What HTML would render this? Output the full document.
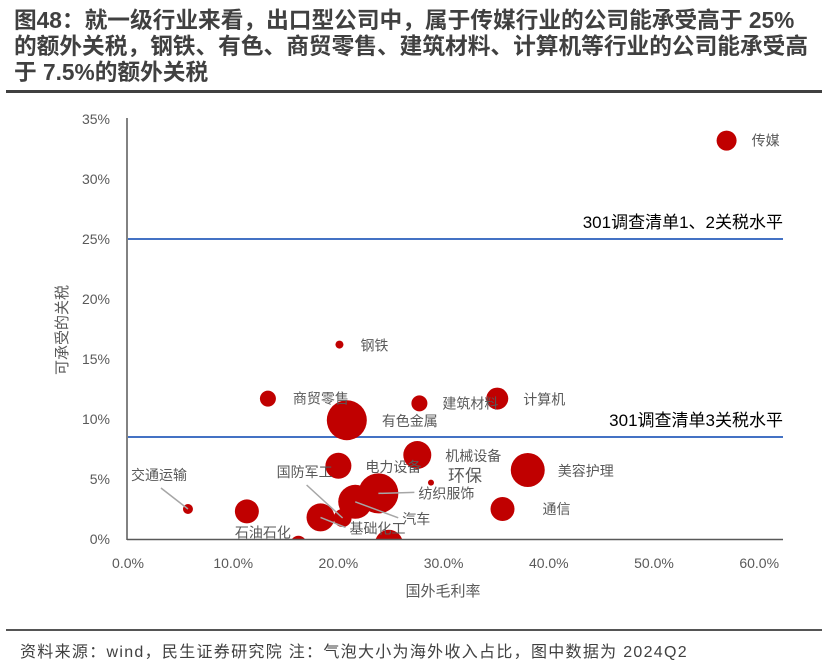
<!DOCTYPE html>
<html><head><meta charset="utf-8">
<style>
body{margin:0;width:836px;height:666px;background:#fff;overflow:hidden;font-family:"Liberation Sans","Noto Sans CJK SC",sans-serif;}
.title{position:absolute;left:14px;top:7px;font-size:22.7px;font-weight:bold;color:#404040;line-height:26px;white-space:nowrap;letter-spacing:0px;}
.rule{position:absolute;left:6px;width:816px;height:3px;background:#404040;}
.foot{position:absolute;left:20px;top:638px;font-size:16px;color:#404040;white-space:nowrap;letter-spacing:1.3px;}
</style></head><body>
<div class="title">图48：就一级行业来看，出口型公司中，属于传媒行业的公司能承受高于 25%<br>的额外关税，钢铁、有色、商贸零售、建筑材料、计算机等行业的公司能承受高<br>于 7.5%的额外关税</div>
<div class="rule" style="top:90px"></div>
<svg id="chart" width="836" height="666" style="position:absolute;left:0;top:0"></svg>
<div class="rule" style="top:629px;height:2px;background:#555"></div>
<div class="foot">资料来源：wind，民生证券研究院 注：气泡大小为海外收入占比，图中数据为 2024Q2</div>
<script>
const industries=["传媒","钢铁","商贸零售","有色金属","建筑材料","计算机","机械设备","美容护理","环保","电力设备","国防军工","纺织服饰","汽车","基础化工","石油石化","交通运输","通信","其他1","其他2"];
const margin=[56.9,20.1,13.3,20.8,27.7,35.1,27.5,38.0,28.8,20.0,20.4,23.8,21.6,18.3,11.3,5.7,35.6,24.8,16.2];
const tariff=[33.2,16.2,11.7,9.9,11.3,11.7,7.0,5.75,4.7,6.1,1.75,3.8,3.1,1.8,2.3,2.5,2.5,-0.4,-0.4];
const share=[10,4,8,20,8,11,14,17,3,13,9,20,17,14,12,5,12,14,8];
const xTicks=[0,10,20,30,40,50,60];
const yTicks=[0,5,10,15,20,25,30,35];
const refLines=[25,8.5];
const refLabels=["301调查清单1、2关税水平","301调查清单3关税水平"];
const lab=[[25,5,"start"],[21,6,"start"],[25,5,"start"],[35,6,"start"],[23,5,"start"],[26,6,"start"],[28,6,"start"],[30,6,"start"],[17,-1,"start",0,17],[27,6,"start"],[-66,-41,"start",1],[40,5,"start",1],[47,22,"start",1],[29,16,"start",1],[-12,26,"start"],[-57,-29,"start",1],[40,5,"start"],null,null];
const svg=document.getElementById('chart');
const NS="http://www.w3.org/2000/svg";
const X=v=>128+v*10.52, Y=v=>539-v*12;
function mk(t,a,p){const e=document.createElementNS(NS,t);for(const k in a)e.setAttribute(k,a[k]);(p||svg).appendChild(e);return e;}
const defs=mk('defs',{});const cp=mk('clipPath',{id:'pc'},defs);mk('rect',{x:128,y:100,width:700,height:439},cp);
yTicks.forEach(t=>{const e=mk('text',{x:110,y:Y(t)+5,'text-anchor':'end','font-size':14,fill:'#595959'});e.textContent=t+'%';

});
xTicks.forEach(t=>{const e=mk('text',{x:X(t),y:568,'text-anchor':'middle','font-size':14,fill:'#595959'});e.textContent=t.toFixed(1)+'%';

});
let yt=mk('text',{x:0,y:0,transform:'translate(67,330) rotate(-90)','text-anchor':'middle','font-size':15,fill:'#595959'});yt.textContent='可承受的关税';


let xt=mk('text',{x:443,y:596,'text-anchor':'middle','font-size':15,fill:'#595959'});xt.textContent='国外毛利率';


refLines.forEach((v,i)=>{const l=mk('line',{x1:128,x2:783,y1:Y(v),y2:Y(v),stroke:'#4472c4','stroke-width':2});


const t=mk('text',{x:783,y:Y(v)-11,'text-anchor':'end','font-size':17,fill:'#000'});t.textContent=refLabels[i];

});
const g=mk('g',{'clip-path':'url(#pc)'});
industries.forEach((n,i)=>{const c=mk('circle',{cx:X(margin[i]),cy:Y(tariff[i]),r:share[i],fill:'#c00000'},g);

});
industries.forEach((n,i)=>{const L=lab[i];if(!L)return;const cx=X(margin[i]),cy=Y(tariff[i]);
const tx=cx+L[0],ty=cy+L[1];
if(L[3]){let lx=tx+(L[0]<0?30:-4),ly=ty+(L[1]<0?8:-6);const ln=mk('line',{x1:cx,y1:cy,x2:lx,y2:ly,stroke:'#a6a6a6','stroke-width':1.5});

}
const t=mk('text',{x:tx,y:ty,'text-anchor':L[2],'font-size':L[4]||14,fill:'#595959'});t.textContent=n;

});
mk('line',{x1:127,x2:127,y1:118,y2:540,stroke:'#595959','stroke-width':1.5});
mk('line',{x1:127,x2:783,y1:539.5,y2:539.5,stroke:'#595959','stroke-width':1.5});
</script>
</body></html>
